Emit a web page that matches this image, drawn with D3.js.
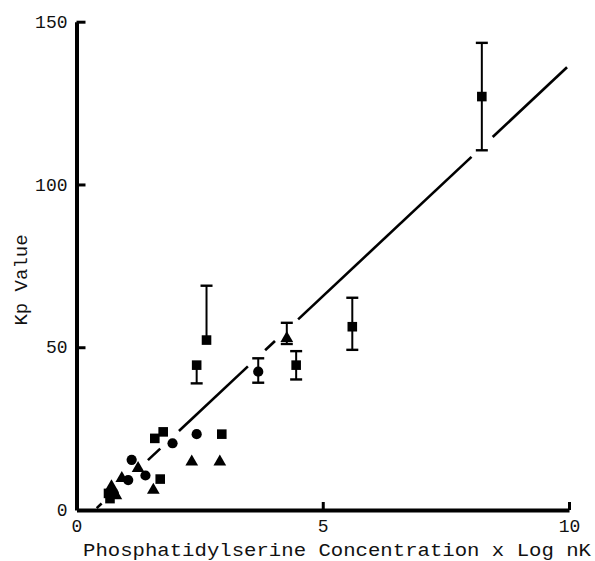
<!DOCTYPE html>
<html>
<head>
<meta charset="utf-8">
<script src="https://cdn.jsdelivr.net/npm/d3@7"></script>
<style>
  html, body { margin: 0; padding: 0; background: #fff; }
  svg text { font-family: "Liberation Mono", "Courier New", monospace; fill: #111; }
</style>
</head>
<body>
<div id="chart"></div>
<script>
// Kp value vs phosphatidylserine concentration x log nK
const xTicks = [0, 5, 10];
const yTicks = [0, 50, 100, 150];

// squares: x, y, optional error bar lo/hi
const squares = [
  { x: 8.23, y: 127.0, lo: 110.5, hi: 143.5 },
  { x: 5.60, y: 56.3, lo: 49.2, hi: 65.2 },
  { x: 2.64, y: 52.2, lo: 52.2, hi: 68.9 },
  { x: 2.44, y: 44.5, lo: 38.9, hi: 44.5 },
  { x: 4.46, y: 44.5, lo: 40.1, hi: 48.8 },
  { x: 2.95, y: 23.3 },
  { x: 1.59, y: 22.0 },
  { x: 1.76, y: 24.0 },
  { x: 1.70, y: 9.5 },
  { x: 0.65, y: 5.1 },
  { x: 0.68, y: 3.5 }
];

const circles = [
  { x: 3.69, y: 42.5, lo: 39.1, hi: 46.6 },
  { x: 2.44, y: 23.3 },
  { x: 1.95, y: 20.5 },
  { x: 1.12, y: 15.4 },
  { x: 1.40, y: 10.6 },
  { x: 1.05, y: 9.2 },
  { x: 0.76, y: 5.0 }
];

const triangles = [
  { x: 4.27, y: 52.7, lo: 51.0, hi: 57.5 },
  { x: 2.34, y: 14.8 },
  { x: 2.91, y: 14.8 },
  { x: 1.56, y: 6.1 },
  { x: 1.25, y: 12.8 },
  { x: 0.92, y: 9.7 },
  { x: 0.71, y: 7.2 },
  { x: 0.80, y: 4.4 }
];

// fitted line end points and the visible pieces (x ranges) of the broken line
const fitEnds = [[0.37, 0], [9.96, 136]];
const fitPieces = [
  [0.41, 0.51],
  [1.45, 1.70],
  [2.08, 3.48],
  [3.83, 4.03],
  [4.50, 8.02],
  [8.45, 9.96]
];

const width = 595, height = 561;

const svg = d3.select('#chart').append('svg')
  .attr('width', width)
  .attr('height', height);

const x = d3.scaleLinear().domain([0, 10]).range([76.5, 569]);
const y = d3.scaleLinear().domain([0, 150]).range([510, 21.7]);

// ✅ Axes
const xAxis = svg.append('g')
  .attr('transform', `translate(0,${y(0)})`)
  .call(d3.axisBottom(x).tickValues(xTicks).tickSizeInner(-8).tickSizeOuter(0).tickPadding(9));

const yAxis = svg.append('g')
  .attr('transform', `translate(${x(0)},0)`)
  .call(d3.axisLeft(y).tickValues(yTicks).tickSizeInner(-9).tickSizeOuter(0).tickPadding(9));

[xAxis, yAxis].forEach(g => {
  g.select('.domain').attr('stroke', '#000').attr('stroke-width', 4);
  g.selectAll('.tick line').attr('stroke', '#000').attr('stroke-width', 3);
  g.selectAll('.tick text').attr('font-size', 18).attr('fill', '#222')
    .attr('font-family', '"Liberation Mono", "Courier New", monospace');
});
yAxis.selectAll('.tick').filter(d => d === 0).select('line').remove();
xAxis.selectAll('.tick').filter(d => d === 0).select('line').remove();

// ✅ Fitted line
const fit = d3.scaleLinear()
  .domain([fitEnds[0][0], fitEnds[1][0]])
  .range([fitEnds[0][1], fitEnds[1][1]]);

svg.append('g').selectAll('line')
  .data(fitPieces)
  .enter().append('line')
  .attr('x1', d => x(d[0]))
  .attr('y1', d => y(fit(d[0])))
  .attr('x2', d => x(d[1]))
  .attr('y2', d => y(fit(d[1])))
  .attr('stroke', '#000')
  .attr('stroke-width', 2.6);

// ✅ Error bars
const withErr = squares.concat(circles, triangles).filter(d => d.lo !== undefined);
const errG = svg.append('g').attr('stroke', '#000').attr('stroke-width', 2);

errG.selectAll('line.stem')
  .data(withErr)
  .enter().append('line')
  .attr('class', 'stem')
  .attr('x1', d => x(d.x)).attr('x2', d => x(d.x))
  .attr('y1', d => y(d.lo)).attr('y2', d => y(d.hi));

const caps = [];
withErr.forEach(d => {
  if (d.hi > d.y) caps.push({ x: d.x, v: d.hi });
  if (d.lo < d.y) caps.push({ x: d.x, v: d.lo });
});

errG.selectAll('line.cap')
  .data(caps)
  .enter().append('line')
  .attr('class', 'cap')
  .attr('stroke-width', 2.4)
  .attr('x1', d => x(d.x) - 6).attr('x2', d => x(d.x) + 6)
  .attr('y1', d => y(d.v)).attr('y2', d => y(d.v));

// ✅ Markers
function drawMarkers(data, type, size) {
  svg.append('g').selectAll('path')
    .data(data)
    .enter().append('path')
    .attr('d', d3.symbol().type(type).size(size))
    .attr('transform', d => `translate(${x(d.x)},${y(d.y)})`)
    .attr('fill', '#000');
}

drawMarkers(squares, d3.symbolSquare, 92);
drawMarkers(circles, d3.symbolCircle, 82);
drawMarkers(triangles, d3.symbolTriangle, 70);

// ✅ Axis titles
svg.append('text')
  .attr('x', 83)
  .attr('y', 556)
  .attr('font-size', 19)
  .attr('textLength', 508)
  .attr('lengthAdjust', 'spacingAndGlyphs')
  .text('Phosphatidylserine Concentration x Log nK');

svg.append('text')
  .attr('transform', 'translate(27,280) rotate(-90)')
  .attr('text-anchor', 'middle')
  .attr('font-size', 19)
  .text('Kp Value');
</script>
</body>
</html>
